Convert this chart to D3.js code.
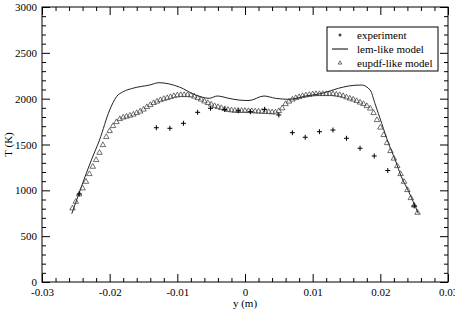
<!DOCTYPE html>
<html>
<head>
<meta charset="utf-8">
<script src="https://cdn.jsdelivr.net/npm/d3@7"></script>
<style>
  body { margin: 0; background: #fff; }
  svg text { font-family: "Liberation Serif", "Times New Roman", "DejaVu Serif", serif !important; fill: #000; }
  .axis text { font-size: 11px; }
  .axis path { display: none; }
  .axis line { stroke: #000; }
</style>
</head>
<body>
<script>

// data (y in m, T in K)
const lem_y = [-0.0256, -0.0227, -0.0215, -0.0200, -0.0190, -0.0180, -0.0166, -0.0141, -0.0127,
    -0.0097, -0.0073, -0.0053, -0.0041, -0.0024, -0.0009, 0.0006, 0.0028, 0.0045, 0.0065,
    0.0090, 0.0114, 0.0138, 0.0153, 0.0172, 0.0185, 0.0192, 0.0202, 0.0212, 0.0222, 0.0231,
    0.0241, 0.0256];
const lem_T = [745, 1331, 1549, 1876, 2021, 2076, 2113, 2149, 2174,
    2127, 2040, 2004, 2029, 2004, 1985, 1980, 2029, 2004, 1993,
    2029, 2058, 2113, 2138, 2149, 2094, 1949, 1731, 1513, 1331, 1149,
    1000, 749];

const eupdf_y = [-0.0255, -0.0250, -0.0245, -0.0240, -0.0235, -0.0230, -0.0225, -0.0220, -0.0215, -0.0210,
    -0.0205, -0.0200, -0.0195, -0.0190, -0.0185, -0.0180, -0.0175, -0.0170, -0.0165, -0.0160,
    -0.0155, -0.0150, -0.0145, -0.0140, -0.0135, -0.0130, -0.0125, -0.0120, -0.0115, -0.0110,
    -0.0105, -0.0100, -0.0095, -0.0090, -0.0085, -0.0080, -0.0075, -0.0070, -0.0065, -0.0060,
    -0.0055, -0.0050, -0.0045, -0.0040, -0.0035, -0.0030, -0.0025, -0.0020, -0.0015, -0.0010,
    -0.0005, 0.0000, 0.0005, 0.0010, 0.0015, 0.0020, 0.0025, 0.0030, 0.0035, 0.0040,
    0.0045, 0.0050, 0.0055, 0.0060, 0.0065, 0.0070, 0.0075, 0.0080, 0.0085, 0.0090,
    0.0095, 0.0100, 0.0105, 0.0110, 0.0115, 0.0120, 0.0125, 0.0130, 0.0135, 0.0140,
    0.0145, 0.0150, 0.0155, 0.0160, 0.0165, 0.0170, 0.0175, 0.0180, 0.0185, 0.0190,
    0.0195, 0.0200, 0.0205, 0.0210, 0.0215, 0.0220, 0.0225, 0.0230, 0.0235, 0.0240,
    0.0245, 0.0250, 0.0255];
const eupdf_T = [804, 876, 957, 1022, 1094, 1178, 1258, 1331, 1410, 1494,
    1582, 1647, 1702, 1745, 1778, 1795, 1805, 1816, 1827, 1844,
    1860, 1882, 1909, 1931, 1953, 1969, 1985, 1998, 2007, 2018,
    2029, 2037, 2040, 2040, 2040, 2037, 2024, 2007, 1991, 1971,
    1953, 1936, 1920, 1909, 1898, 1887, 1878, 1873, 1869, 1868,
    1868, 1868, 1865, 1865, 1862, 1860, 1858, 1857, 1855, 1852,
    1851, 1865, 1895, 1942, 1969, 1991, 2007, 2018, 2029, 2037,
    2042, 2048, 2051, 2051, 2051, 2051, 2051, 2051, 2045, 2040,
    2029, 2015, 2002, 1991, 1975, 1958, 1942, 1920, 1893, 1844,
    1767, 1685, 1604, 1516, 1429, 1347, 1265, 1178, 1094, 1004,
    916, 835, 756];

const exp_y = [-0.0245, -0.0131, -0.0111, -0.0091, -0.0070, -0.0051, -0.0030, -0.0010, 0.0008,
    0.0029, 0.0050, 0.0070, 0.0089, 0.0110, 0.0130, 0.0150, 0.0170, 0.0191, 0.0211, 0.0250];
const exp_T = [960, 1683, 1677, 1731, 1851, 1895, 1882, 1868, 1858,
    1884, 1822, 1629, 1579, 1640, 1658, 1568, 1459, 1375, 1216, 830];

const x_ticks = [-0.03, -0.02, -0.01, 0, 0.01, 0.02, 0.03];
const x_tick_labels = ["-0.03", "-0.02", "-0.01", "0", "0.01", "0.02", "0.03"];
const y_ticks = [0, 500, 1000, 1500, 2000, 2500, 3000];
const legend_labels = ["experiment", "lem-like model", "eupdf-like model"];

// setup
const WIDTH = 455;
const HEIGHT = 318;
const margin = {left: 42, top: 7, right: 7, bottom: 36};
const plot_w = WIDTH - margin.left - margin.right;
const plot_h = HEIGHT - margin.top - margin.bottom;

const svg = d3.select("body").append("svg")
    .attr("width", WIDTH)
    .attr("height", HEIGHT);

const g = svg.append("g")
    .attr("transform", `translate(${margin.left},${margin.top})`);

const x = d3.scaleLinear().domain([-0.03, 0.03]).range([0, plot_w]);
const y = d3.scaleLinear().domain([0, 3000]).range([plot_h, 0]);

const x_minor = d3.range(-30, 31, 2).map(d => d / 1000).filter(d => Math.round(d * 1000) % 10 !== 0);
const y_minor = d3.range(0, 3001, 100).filter(d => d % 500 !== 0);

// ticks on all four sides, pointing inward
const add_ticks = function (axis_fn, scale, values, size, transform, labels) {
    const ax = axis_fn(scale).tickValues(values).tickSizeInner(-size).tickSizeOuter(0);
    if (labels) {
        ax.tickFormat((d, i) => labels[i]);
    } else {
        ax.tickFormat("");
    }
    return g.append("g").attr("class", "axis").attr("transform", transform).call(ax);
};

add_ticks(d3.axisBottom, x, x_minor, 4, `translate(0,${plot_h})`);
add_ticks(d3.axisTop, x, x_minor, 4, "translate(0,0)");
add_ticks(d3.axisLeft, y, y_minor, 4, "translate(0,0)");
add_ticks(d3.axisRight, y, y_minor, 4, `translate(${plot_w},0)`);

add_ticks(d3.axisBottom, x, x_ticks, 8, `translate(0,${plot_h})`, x_tick_labels)
    .call(a => a.selectAll("text").attr("y", 6));
add_ticks(d3.axisTop, x, x_ticks, 8, "translate(0,0)");
add_ticks(d3.axisLeft, y, y_ticks, 8, "translate(0,0)", y_ticks.map(String))
    .call(a => a.selectAll("text").attr("x", -5));
add_ticks(d3.axisRight, y, y_ticks, 8, `translate(${plot_w},0)`);

// frame
g.append("rect")
    .attr("width", plot_w)
    .attr("height", plot_h)
    .attr("fill", "none")
    .attr("stroke", "#000")
    .attr("stroke-width", 1);

// axis titles
svg.append("text")
    .attr("x", margin.left + x(0))
    .attr("y", 307)
    .attr("text-anchor", "middle")
    .style("font-size", "11px")
    .text("y (m)");

svg.append("text")
    .attr("transform", `translate(12,${margin.top + y(1500)}) rotate(-90)`)
    .attr("text-anchor", "middle")
    .style("font-size", "11px")
    .text("T (K)");

// lem-like model line
const lem_data = lem_y.map((d, i) => ({y: d, T: lem_T[i]}));
g.append("path")
    .datum(lem_data)
    .attr("fill", "none")
    .attr("stroke", "#222")
    .attr("stroke-width", 1)
    .attr("d", d3.line().x(d => x(d.y)).y(d => y(d.T)).curve(d3.curveMonotoneX));

// eupdf-like triangles
const tri = d3.symbol().type(d3.symbolTriangle).size(13);
g.append("g").selectAll("path")
    .data(eupdf_y.map((d, i) => ({y: d, T: eupdf_T[i]})))
    .join("path")
    .attr("transform", d => `translate(${x(d.y)},${y(d.T)})`)
    .attr("d", tri)
    .attr("fill", "none")
    .attr("stroke", "#333")
    .attr("stroke-width", 0.7);

// experiment crosses
const cross_path = "M-2.5,0H2.5M0,-2.5V2.5";
g.append("g").selectAll("path")
    .data(exp_y.map((d, i) => ({y: d, T: exp_T[i]})))
    .join("path")
    .attr("transform", d => `translate(${x(d.y)},${y(d.T)})`)
    .attr("d", cross_path)
    .attr("stroke", "#000")
    .attr("stroke-width", 1);

// legend
const legend = svg.append("g").attr("transform", "translate(327,27)");
legend.append("rect")
    .attr("width", 111)
    .attr("height", 44)
    .attr("fill", "#fff")
    .attr("stroke", "#000");

legend.append("path")
    .attr("transform", "translate(13,8)")
    .attr("d", "M-1.5,0H1.5M0,-1.5V1.5")
    .attr("stroke", "#000");
legend.append("line")
    .attr("x1", 5).attr("x2", 21)
    .attr("y1", 22).attr("y2", 22)
    .attr("stroke", "#000");
legend.append("path")
    .attr("transform", "translate(13,36)")
    .attr("d", d3.symbol().type(d3.symbolTriangle).size(6))
    .attr("fill", "none")
    .attr("stroke", "#333")
    .attr("stroke-width", 0.7);

legend.selectAll("text.lbl")
    .data(legend_labels)
    .join("text")
    .attr("class", "lbl")
    .attr("x", 30)
    .attr("y", (d, i) => 12 + i * 14)
    .style("font-size", "11px")
    .text(d => d);

</script>
</body>
</html>
